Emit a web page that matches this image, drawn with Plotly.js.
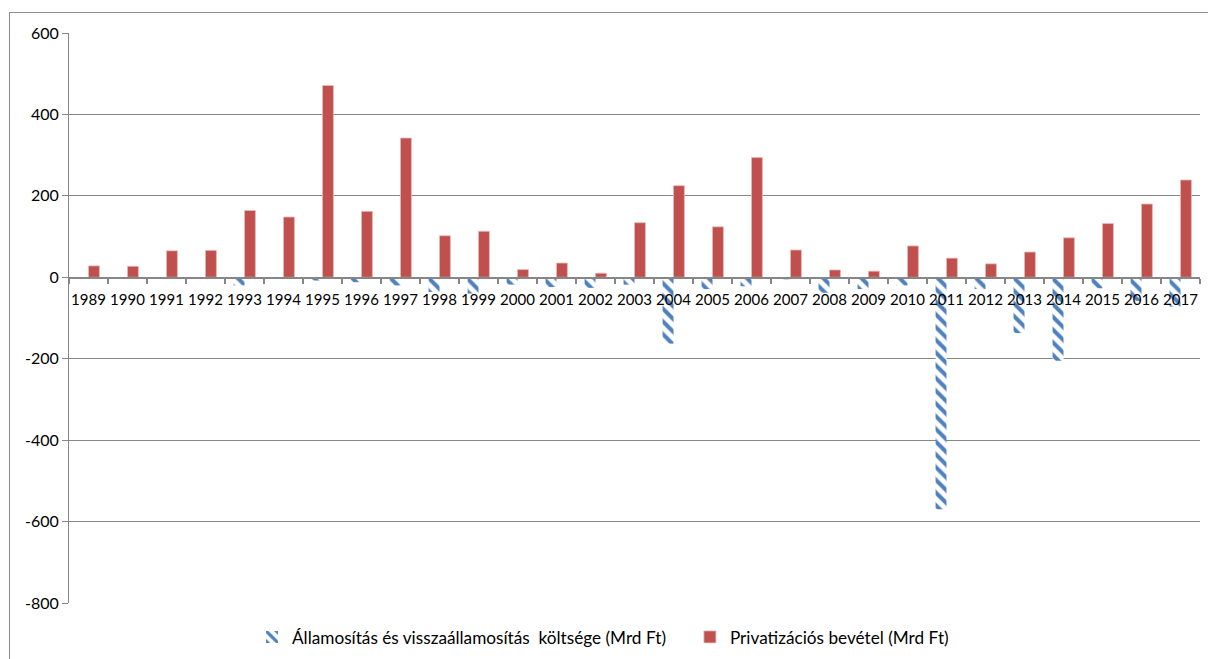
<!DOCTYPE html>
<html>
<head>
<meta charset="utf-8">
<script src="https://cdn.plot.ly/plotly-3.0.1.min.js"></script>
<style>
  html, body { margin: 0; padding: 0; background: #fff; overflow: hidden; }
  #chart { width: 1208px; height: 659px; }
  #frame { position: absolute; left: 9px; top: 12px; width: 1220px; height: 670px;
           border: 1px solid #8c8c8c; pointer-events: none; }
</style>
</head>
<body>
<div id="chart"></div>
<div id="frame"></div>
<script>
const years = ["1989","1990","1991","1992","1993","1994","1995","1996","1997","1998",
  "1999","2000","2001","2002","2003","2004","2005","2006","2007","2008",
  "2009","2010","2011","2012","2013","2014","2015","2016","2017"];
const nationalisationCost = [0,0,0,0,-20,-4,-8,-12,-20,-36,
  -40,-18,-24,-26,-18,-163,-29,-22,-5,-38,
  -29,-20,-570,-29,-137,-205,-27,-58,-72];
const privatisationRevenue = [28,27,65,66,164,148,471,162,342,102,
  113,19,35,10,134,225,124,294,67,18,
  15,77,47,33,62,97,132,180,239];
const seriesNames = ["Államosítás és visszaállamosítás  költsége (Mrd Ft)",
  "Privatizációs bevétel (Mrd Ft)"];
const yTicks = [-800,-600,-400,-200,0,200,400,600];

const FONT = "Lato, 'Open Sans', sans-serif";

const traces = [
  {
    type: "bar", x: years, y: nationalisationCost, name: seriesNames[0],
    legend: "legend",
    marker: { color: "#ffffff",
      pattern: { shape: "\\", fgcolor: "#4F81BD", bgcolor: "#ffffff", size: 9, solidity: 0.45 },
      line: { width: 0 } },
    hoverinfo: "x+y"
  },
  {
    type: "bar", x: years, y: privatisationRevenue, name: seriesNames[1],
    legend: "legend2",
    marker: { color: "#C0504D", line: { width: 0.8, color: "#E6B9B8" } },
    hoverinfo: "x+y"
  }
];

const legendFont = { family: FONT, size: 17.2, color: "#000" };

const layout = {
  width: 1208, height: 659,
  margin: { l: 69, r: 8, t: 33, b: 56, autoexpand: false },
  paper_bgcolor: "#ffffff", plot_bgcolor: "#ffffff",
  font: { family: FONT, size: 16, color: "#000" },
  barmode: "group", bargap: 0.44, bargroupgap: 0,
  showlegend: true,
  legend: { orientation: "h", x: 0.1618, xanchor: "left", y: -0.06, yanchor: "middle",
    font: legendFont, itemwidth: 30, bgcolor: "rgba(0,0,0,0)" },
  legend2: { orientation: "h", x: 0.549, xanchor: "left", y: -0.06, yanchor: "middle",
    font: legendFont, itemwidth: 30, bgcolor: "rgba(0,0,0,0)" },
  xaxis: {
    type: "category", anchor: "free", position: (0 - (-800)) / (600 - (-800)),
    showline: true, linecolor: "#868686", linewidth: 1.5,
    ticks: "outside", tickson: "boundaries", ticklen: 5, tickcolor: "#868686", tickwidth: 1.5,
    tickangle: 0, automargin: false, ticklabelstandoff: 8,
    showgrid: false, tickfont: { family: FONT, size: 15, color: "#000" },
    fixedrange: true
  },
  yaxis: {
    range: [-800, 600], tickvals: yTicks, ticktext: yTicks.map(String),
    showline: true, linecolor: "#868686", linewidth: 1, automargin: false,
    ticks: "outside", ticklen: 6, tickcolor: "#868686", tickwidth: 1,
    showgrid: true, gridcolor: "#868686", gridwidth: 1, zeroline: false,
    tickfont: { family: FONT, size: 16, color: "#000" },
    fixedrange: true
  }
};

Plotly.newPlot("chart", traces, layout, { displayModeBar: false, staticPlot: true });
</script>
</body>
</html>
